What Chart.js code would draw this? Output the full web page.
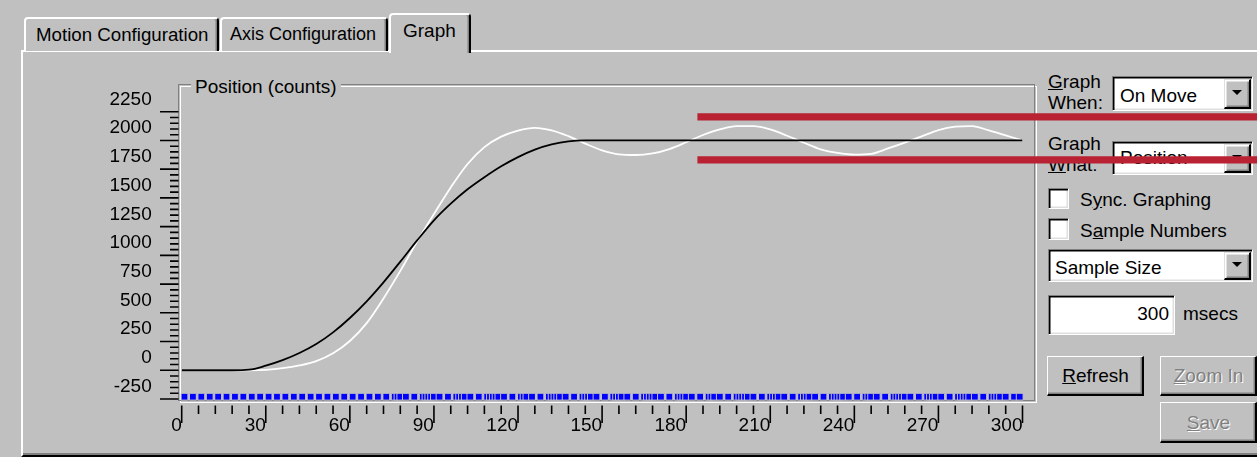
<!DOCTYPE html>
<html lang="en">
<head>
<meta charset="utf-8">
<title>Graph</title>
<script src="https://cdn.jsdelivr.net/npm/chart.js@4.4.1/dist/chart.umd.min.js"></script>
<style>
  html, body { margin: 0; padding: 0; }
  body {
    position: relative; width: 1257px; height: 457px; overflow: hidden;
    background: #c0c0c0; color: #000;
    font-family: 'Liberation Sans', Arial, sans-serif; font-size: 19px;
  }
  .box, .t { position: absolute; box-sizing: border-box; }
  .t { white-space: nowrap; line-height: 21px; }
  .raised {
    background: #c0c0c0;
    border-top: 1.5px solid #fff; border-left: 1.5px solid #fff;
    border-right: 2px solid #000; border-bottom: 2px solid #000;
    box-shadow: inset -1.5px -1.5px 0 #808080;
  }
  .sunken {
    background: #fff;
    border-top: 1.5px solid #808080; border-left: 1.5px solid #808080;
    border-right: 1.5px solid #fff; border-bottom: 1.5px solid #fff;
    box-shadow: inset 1.5px 1.5px 0 #000, inset -1.5px -1.5px 0 #dfdfdf;
  }
  .tab {
    background: #c0c0c0;
    border-top: 2px solid #fff; border-left: 2px solid #fff; border-right: 2px solid #000;
    border-radius: 4px 4px 0 0;
    box-shadow: inset -1.5px 0 0 #808080;
  }
  .drop {
    position: absolute; right: 1.5px; top: 1.5px; bottom: 1.5px; width: 27px;
    box-sizing: border-box; background: #c0c0c0;
    border-top: 1.5px solid #dfdfdf; border-left: 1.5px solid #dfdfdf;
    border-right: 2px solid #000; border-bottom: 2px solid #000;
    box-shadow: inset 1.5px 1.5px 0 #fff, inset -1.5px -1.5px 0 #808080;
  }
  .drop::after {
    content: ''; position: absolute; left: 50%; top: 50%;
    margin-left: -5px; margin-top: -3px;
    border-left: 5px solid transparent; border-right: 5px solid transparent;
    border-top: 5px solid #000;
  }
  .dis { color: #808080; text-shadow: 1px 1px 0 #fff; }
  .c { text-align: center; }
  #graph { position: absolute; left: 0; top: 0; z-index: 5; pointer-events: none; }
</style>
</head>
<body>

<!-- tab page frame -->
<div class="box" style="left:21px;top:50px;width:1300px;height:407px;border-top:2px solid #fff;border-left:2px solid #fff;border-bottom:2px solid #000;box-shadow:inset 0 -2px 0 #808080;"></div>

<!-- tabs -->
<div class="box tab" style="left:24px;top:17px;width:195px;height:34px;"></div>
<div class="box tab" style="left:220px;top:17px;width:168px;height:34px;"></div>
<div class="box tab" style="left:389px;top:13px;width:82px;height:40px;z-index:2;"></div>
<div class="t" style="left:36px;top:23.5px;font-size:18.7px;">Motion Configuration</div>
<div class="t" style="left:230px;top:23.5px;font-size:18px;">Axis Configuration</div>
<div class="t" style="left:403px;top:20px;z-index:3;">Graph</div>

<!-- group box around the plot -->
<div class="box" style="left:179.5px;top:85.5px;width:857px;height:317px;border:1.5px solid #fff;"></div>
<div class="box" style="left:177.5px;top:83.5px;width:857px;height:317px;border:1.5px solid #808080;"></div>
<div class="t" style="left:191px;top:75.5px;padding:0 4px;background:#c0c0c0;">Position (counts)</div>

<!-- graph controls -->
<div class="t" style="left:1048px;top:70.5px;"><u>G</u>raph<br>When:</div>
<div class="box sunken" style="left:1112px;top:76px;width:141px;height:35px;"><div class="drop"></div></div>
<div class="t" style="left:1120px;top:85px;">On Move</div>

<div class="t" style="left:1048px;top:132.5px;">Graph<br><u>W</u>hat:</div>
<div class="box sunken" style="left:1112px;top:141px;width:141px;height:34px;"><div class="drop"></div></div>
<div class="t" style="left:1120px;top:147px;">Position</div>

<div class="box sunken" style="left:1048px;top:188px;width:21px;height:21px;"></div>
<div class="t" style="left:1080px;top:189px;">S<u>y</u>nc. Graphing</div>
<div class="box sunken" style="left:1048px;top:218px;width:21px;height:22px;"></div>
<div class="t" style="left:1080px;top:219.5px;">S<u>a</u>mple Numbers</div>

<div class="box sunken" style="left:1048px;top:249px;width:205px;height:33px;"><div class="drop"></div></div>
<div class="t" style="left:1055px;top:256.5px;">Sample Size</div>

<div class="box sunken" style="left:1048px;top:295px;width:127px;height:40px;"></div>
<div class="t" style="left:1048px;top:303px;width:121px;text-align:right;">300</div>
<div class="t" style="left:1183px;top:303px;">msecs</div>

<div class="box raised" style="left:1047px;top:356px;width:97px;height:40px;"></div>
<div class="t c" style="left:1047px;top:365px;width:97px;"><u>R</u>efresh</div>
<div class="box raised" style="left:1160px;top:356px;width:97px;height:40px;"></div>
<div class="t c dis" style="left:1160px;top:365px;width:97px;"><u>Z</u>oom In</div>
<div class="box raised" style="left:1160px;top:402px;width:97px;height:41px;"></div>
<div class="t c dis" style="left:1160px;top:411.5px;width:97px;"><u>S</u>ave</div>

<canvas id="graph" width="1257" height="457"></canvas>

<script>
// Sample times in milliseconds
const timeMs = [0, 6, 12, 18, 24, 30, 36, 42, 48, 54, 60, 66, 72, 78, 84, 90, 96, 102, 108, 114,
  120, 126, 132, 138, 144, 150, 156, 162, 168, 174, 180, 186, 192, 198, 204, 210, 216, 222, 228,
  234, 240, 246, 252, 258, 264, 270, 276, 282, 288, 294, 300];

// Commanded (profile) position, counts
const commandedCounts = [0, 0, 0, 0, 5, 40, 88, 150, 228, 330, 455, 600, 765, 945, 1130, 1305,
  1450, 1575, 1680, 1775, 1855, 1920, 1965, 1992, 2000, 2000, 2000, 2000, 2000, 2000, 2000, 2000,
  2000, 2000, 2000, 2000, 2000, 2000, 2000, 2000, 2000, 2000, 2000, 2000, 2000, 2000, 2000, 2000,
  2000, 2000, 2000];

// Actual (encoder) position, counts
const actualCounts = [0, 0, 0, 0, 0, 4, 18, 42, 80, 148, 255, 410, 625, 865, 1120, 1360, 1591,
  1795, 1942, 2033, 2086, 2110, 2088, 2037, 1972, 1914, 1879, 1873, 1887, 1925, 1984, 2047, 2096,
  2124, 2124, 2096, 2041, 1980, 1923, 1891, 1876, 1883, 1930, 1981, 2035, 2090, 2120, 2125, 2087,
  2044, 2000];

// Times at which samples were captured, ms
const sampleMarkMs = [1, 4, 7, 10, 13, 16, 19, 22, 25, 28, 31, 34, 37, 40, 43, 46, 49, 52, 55,
  58, 61, 64, 67, 70, 73, 76, 77, 78, 80, 83, 86, 87, 88, 89, 90, 92, 95, 98, 99, 100, 101, 103,
  106, 109, 110, 111, 112, 113, 115, 118, 121, 122, 123, 125, 128, 131, 132, 133, 134, 135, 137,
  140, 143, 144, 145, 146, 148, 151, 154, 155, 156, 157, 159, 162, 165, 166, 167, 168, 169, 171,
  174, 177, 178, 179, 180, 182, 185, 188, 189, 190, 192, 195, 198, 199, 200, 201, 202, 204, 207,
  210, 211, 212, 213, 215, 218, 221, 222, 223, 224, 226, 229, 232, 233, 234, 235, 236, 238, 241,
  244, 245, 246, 248, 251, 254, 255, 256, 257, 258, 260, 263, 266, 267, 268, 269, 271, 274, 277,
  278, 279, 280, 281, 283, 286, 289, 290, 291, 292, 294, 297, 299];
const sampleMarkLevel = -230;

// Settling band limits, counts, and the span they are marked over, ms
const bandLevels = [2205, 1830];
const bandSpanMs = [184, 400];

// Axis tick labels
const xTickLabels = [0, 30, 60, 90, 120, 150, 180, 210, 240, 270, 300];
const yTickLabels = [-250, 0, 250, 500, 750, 1000, 1250, 1500, 1750, 2000, 2250];
const xMinorStep = 6;
const yMinorStep = 50;

const FONT = { family: "'Liberation Sans', Arial, sans-serif", size: 19 };
const toPoints = (xs, ys) => xs.map((x, i) => ({ x, y: ys[i] }));

// Major and minor tick marks hung off the plot edges
const axisTicks = {
  id: 'axisTicks',
  afterDraw(chart) {
    const { ctx, chartArea, scales: { x, y } } = chart;
    const yMajor = yTickLabels[1] - yTickLabels[0];
    const xMajor = xTickLabels[1] - xTickLabels[0];
    ctx.save();
    ctx.strokeStyle = '#000';
    ctx.lineWidth = 1.6;
    ctx.beginPath();
    const tickRight = chartArea.left - 3.2;
    for (let v = y.min; v <= y.max; v += yMinorStep) {
      const py = y.getPixelForValue(v);
      const major = (v - y.min) % yMajor === 0;
      ctx.moveTo(tickRight - (major ? 18.5 : 8.5), py);
      ctx.lineTo(tickRight, py);
    }
    const tickTop = chartArea.bottom + 6.5;
    for (let v = x.min; v <= x.max; v += xMinorStep) {
      const px = x.getPixelForValue(v);
      const major = (v - x.min) % xMajor === 0;
      ctx.moveTo(px, tickTop);
      ctx.lineTo(px, tickTop + (major ? 17.5 : 8.5));
    }
    ctx.stroke();
    ctx.restore();
  }
};

const bandDataset = (level) => ({
  label: 'band',
  data: bandSpanMs.map(t => ({ x: t, y: level })),
  borderColor: '#b82232',
  borderWidth: 7.3,
  borderCapStyle: 'butt',
  pointRadius: 0,
  clip: false,
  order: 0
});

new Chart(document.getElementById('graph'), {
  type: 'line',
  data: {
    datasets: [
      bandDataset(bandLevels[0]),
      bandDataset(bandLevels[1]),
      {
        label: 'Commanded',
        data: toPoints(timeMs, commandedCounts),
        borderColor: '#000',
        borderWidth: 1.8,
        pointRadius: 0,
        cubicInterpolationMode: 'monotone',
        order: 1
      },
      {
        label: 'Actual',
        data: toPoints(timeMs, actualCounts),
        borderColor: '#fff',
        borderWidth: 1.8,
        pointRadius: 0,
        cubicInterpolationMode: 'monotone',
        order: 2
      },
      {
        label: 'Samples',
        data: sampleMarkMs.map(t => ({ x: t, y: sampleMarkLevel })),
        showLine: false,
        pointStyle: 'rect',
        pointRadius: 4.8,
        pointBackgroundColor: '#0000ff',
        pointBorderColor: '#c0c0c0',
        pointBorderWidth: 1,
        clip: false,
        order: 3
      }
    ]
  },
  options: {
    responsive: false,
    animation: false,
    events: [],
    layout: { padding: { top: 111.7, right: 234.5, left: 0, bottom: 0 } },
    plugins: { legend: { display: false }, tooltip: { enabled: false } },
    scales: {
      x: {
        type: 'linear',
        min: xTickLabels[0],
        max: xTickLabels[xTickLabels.length - 1],
        grid: { display: false, drawTicks: false },
        border: { display: false },
        afterBuildTicks: s => { s.ticks = xTickLabels.map(v => ({ value: v })); },
        afterFit: s => { s.height = 58; },
        ticks: {
          align: 'end', padding: 15, maxRotation: 0, autoSkip: false,
          color: '#000', font: FONT, callback: v => String(v)
        }
      },
      y: {
        type: 'linear',
        min: yTickLabels[0],
        max: yTickLabels[yTickLabels.length - 1],
        grid: { display: false, drawTicks: false },
        border: { display: false },
        afterBuildTicks: s => { s.ticks = yTickLabels.map(v => ({ value: v })); },
        afterFit: s => { s.width = 181.7; },
        ticks: {
          padding: 30, labelOffset: -12.3, autoSkip: false,
          color: '#000', font: FONT, callback: v => String(v)
        }
      }
    }
  },
  plugins: [axisTicks]
});
</script>
</body>
</html>
